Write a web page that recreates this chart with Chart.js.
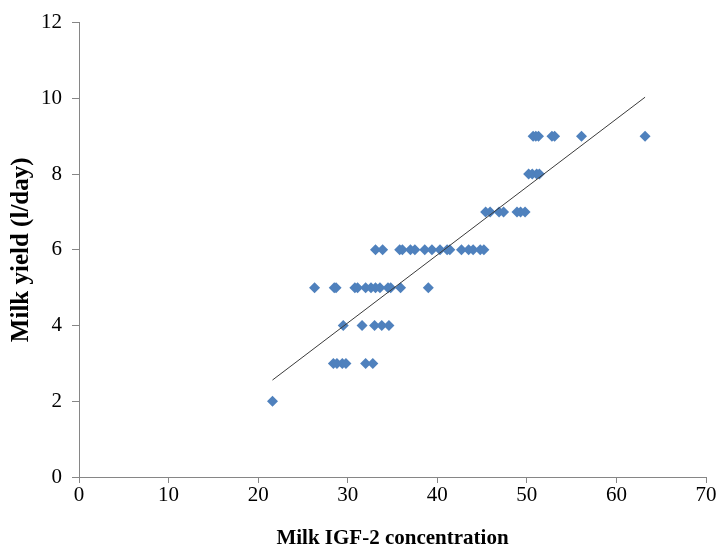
<!DOCTYPE html>
<html>
<head>
<meta charset="utf-8">
<script src="https://cdn.jsdelivr.net/npm/chart.js@4.4.1/dist/chart.umd.min.js"></script>
<style>
html,body{margin:0;padding:0;background:#fff;}
#wrap{width:718px;height:549px;position:relative;}
</style>
</head>
<body>
<div id="wrap"><canvas id="c" width="718" height="549"></canvas></div>
<script>
// Milk IGF-2 concentration (x) and milk yield in l/day (y)
const igf2 = [
  21.6,
  28.4, 28.8, 29.4, 29.8, 32.0, 32.8,
  29.5, 31.6, 33.0, 33.8, 34.6,
  26.3, 28.5, 28.7, 30.8, 31.1, 32.0, 32.6, 33.1, 33.6, 34.5, 34.8, 35.9, 39.0,
  33.1, 33.9, 35.8, 36.1, 37.0, 37.5, 38.6, 39.4, 40.3, 41.1, 41.4, 42.7, 43.5, 44.0, 44.8, 45.2,
  45.4, 45.9, 46.9, 47.4, 48.9, 49.3, 49.8,
  50.2, 50.6, 51.1, 51.4,
  50.7, 51.0, 51.3, 52.8, 53.1, 56.1, 63.2
];
const milkYield = [
  2,
  3, 3, 3, 3, 3, 3,
  4, 4, 4, 4, 4,
  5, 5, 5, 5, 5, 5, 5, 5, 5, 5, 5, 5, 5,
  6, 6, 6, 6, 6, 6, 6, 6, 6, 6, 6, 6, 6, 6, 6, 6,
  7, 7, 7, 7, 7, 7, 7,
  8, 8, 8, 8,
  9, 9, 9, 9, 9, 9, 9
];
// Linear trend line end points
const trendX = [21.6, 63.2];
const trendY = [2.56, 10.03];

const xTicks = [0, 10, 20, 30, 40, 50, 60, 70];
const yTicks = [0, 2, 4, 6, 8, 10, 12];

const points = igf2.map((x, i) => ({x: x, y: milkYield[i]}));
const trend = trendX.map((x, i) => ({x: x, y: trendY[i]}));

const axisColor = '#868686';
const serif = '"Liberation Serif", "Times New Roman", serif';
const tickFont = {family: serif, size: 21};
const xTitleFont = {family: serif, size: 21, weight: 'bold', lineHeight: 1};
const yTitleFont = {family: serif, size: 25, weight: 'bold', lineHeight: 1};

new Chart(document.getElementById('c'), {
  type: 'scatter',
  data: {
    datasets: [
      {
        label: 'Milk yield',
        data: points,
        pointStyle: 'rectRot',
        pointRadius: 5.5,
        pointHoverRadius: 5.5,
        backgroundColor: '#4F81BD',
        borderColor: '#4F81BD',
        borderWidth: 0,
        order: 2
      },
      {
        label: 'Trend',
        type: 'line',
        data: trend,
        showLine: true,
        borderColor: '#3a3a3a',
        borderWidth: 1,
        pointRadius: 0,
        fill: false,
        order: 1
      }
    ]
  },
  options: {
    responsive: false,
    animation: false,
    events: [],
    layout: {padding: {top: 22, right: 12, left: 0, bottom: 0}},
    plugins: {legend: {display: false}, tooltip: {enabled: false}},
    scales: {
      x: {
        type: 'linear',
        min: 0, max: 70,
        afterBuildTicks: s => { s.ticks = xTicks.map(v => ({value: v})); },
        afterFit: s => { s.height = 72; },
        grid: {display: true, drawOnChartArea: false, drawTicks: true, tickLength: 6, color: axisColor},
        border: {display: true, color: axisColor, width: 1},
        ticks: {color: '#000', font: tickFont, padding: 0, maxRotation: 0},
        title: {display: true, text: 'Milk IGF-2 concentration', color: '#000', font: xTitleFont, padding: {top: 0, bottom: 0}}
      },
      y: {
        type: 'linear',
        min: 0, max: 12,
        afterBuildTicks: s => { s.ticks = yTicks.map(v => ({value: v})); },
        afterFit: s => { s.width = 79; },
        grid: {display: true, drawOnChartArea: false, drawTicks: true, tickLength: 7, color: axisColor},
        border: {display: true, color: axisColor, width: 1},
        ticks: {color: '#000', font: tickFont, padding: 10},
        title: {display: true, text: 'Milk yield (l/day)', color: '#000', font: yTitleFont, padding: {top: 9, bottom: 0}}
      }
    }
  }
});
</script>
</body>
</html>
